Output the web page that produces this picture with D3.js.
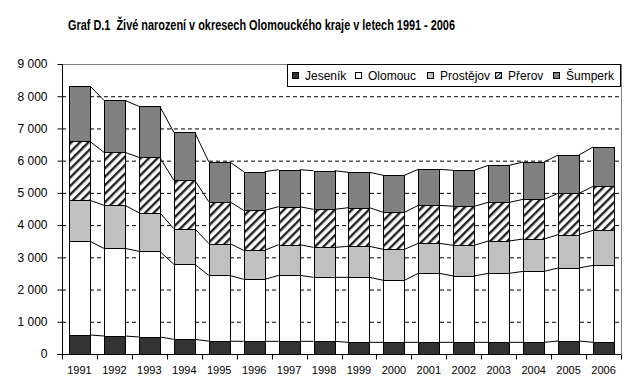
<!DOCTYPE html>
<html>
<head>
<meta charset="utf-8">
<script src="https://cdn.jsdelivr.net/npm/d3@7"></script>
<style>
  body { margin: 0; background: #fff; }
  text { font-family: "Liberation Sans", Arial, sans-serif; }
</style>
</head>
<body>
<svg id="chart"></svg>
<script>
// values
const years = ["1991","1992","1993","1994","1995","1996","1997","1998","1999","2000","2001","2002","2003","2004","2005","2006"];
const jesenik   = [590, 559, 528, 455, 398, 393, 393, 393, 362, 362, 362, 362, 362, 362, 403, 362];
const olomouc   = [2907, 2720, 2658, 2328, 2043, 1924, 2048, 1986, 2017, 1924, 2141, 2059, 2141, 2203, 2266, 2390];
const prostejov = [1272, 1335, 1200, 1107, 988, 900, 952, 931, 962, 962, 931, 951, 1004, 1004, 1034, 1086];
const prerov    = [1831, 1645, 1717, 1500, 1299, 1241, 1179, 1180, 1200, 1148, 1180, 1211, 1200, 1231, 1283, 1365];
const sumperk   = [1717, 1613, 1583, 1489, 1236, 1200, 1148, 1199, 1097, 1149, 1117, 1117, 1148, 1158, 1190, 1221];
const seriesNames = ["Jeseník", "Olomouc", "Prostějov", "Přerov", "Šumperk"];
const yTicks = [0, 1000, 2000, 3000, 4000, 5000, 6000, 7000, 8000, 9000];

const fills = ["#333333", "#ffffff", "#c0c0c0", "url(#hatch)", "#808080"];

const width = 633, height = 386;
const svg = d3.select('#chart')
  .attr('width', width)
  .attr('height', height);

// hatch pattern for Přerov
const defs = svg.append("defs");
const pat = defs.append("pattern")
  .attr("id", "hatch")
  .attr("patternUnits", "userSpaceOnUse")
  .attr("width", 6).attr("height", 6)
  .attr("patternTransform", "rotate(45)");
pat.append("rect").attr("width", 6).attr("height", 6).attr("fill", "#fff");
pat.append("rect").attr("x", 0).attr("y", 0).attr("width", 2.4).attr("height", 6)
  .attr("fill", "#222");

const pat2 = defs.append("pattern")
  .attr("id", "hatchSmall")
  .attr("patternUnits", "userSpaceOnUse")
  .attr("width", 3).attr("height", 3)
  .attr("patternTransform", "rotate(45)");
pat2.append("rect").attr("width", 3).attr("height", 3).attr("fill", "#fff");
pat2.append("rect").attr("width", 1.2).attr("height", 3).attr("fill", "#000");

const plotL = 62, plotR = 621, plotT = 64, plotB = 354;

const x = d3.scaleBand().domain(years).range([plotL, plotR]).paddingInner(0.4).paddingOuter(0.2);
const y = d3.scaleLinear().domain([0, 9000]).range([plotB, plotT]);

const rows = years.map((yr, i) => ({
  year: yr,
  "Jeseník": jesenik[i], "Olomouc": olomouc[i], "Prostějov": prostejov[i],
  "Přerov": prerov[i], "Šumperk": sumperk[i]
}));
const stacked = d3.stack().keys(seriesNames)(rows);

// title
svg.append("text")
  .attr("x", 68).attr("y", 30)
  .attr("font-size", 14).attr("font-weight", "bold")
  .attr("textLength", 387).attr("lengthAdjust", "spacingAndGlyphs")
  .style("white-space", "pre")
  .text("Graf D.1  Živé narození v okresech Olomouckého kraje v letech 1991 - 2006");

// gridlines
svg.append("g").selectAll("line")
  .data(yTicks.filter(d => d > 0 && d < 9000))
  .join("line")
  .attr("x1", plotL).attr("x2", plotR)
  .attr("y1", d => y(d) + 0.5).attr("y2", d => y(d) + 0.5)
  .attr("stroke", "#000").attr("stroke-dasharray", "4,3");

// plot border (top & right)
svg.append("path")
  .attr("d", `M${plotL},${y(9000) + 0.5}H${plotR + 0.5}V${plotB}`)
  .attr("fill", "none").attr("stroke", "#808080");

// series connector lines
const bw = x.bandwidth();
stacked.forEach(s => {
  const pts = [];
  s.forEach((d, i) => {
    if (i > 0) pts.push([[x(years[i - 1]) + bw, y(s[i - 1][1])], [x(years[i]), y(d[1])]]);
  });
  svg.append("g").selectAll("line").data(pts).join("line")
    .attr("x1", d => d[0][0]).attr("y1", d => d[0][1])
    .attr("x2", d => d[1][0]).attr("y2", d => d[1][1])
    .attr("stroke", "#000").attr("stroke-width", 1);
});

// bars
stacked.forEach((s, k) => {
  svg.append("g").selectAll("rect").data(s).join("rect")
    .attr("x", (d, i) => Math.round(x(years[i])) + 0.5)
    .attr("y", d => Math.round(y(d[1])) + 0.5)
    .attr("width", Math.round(bw))
    .attr("height", d => Math.round(y(d[0])) - Math.round(y(d[1])))
    .attr("fill", fills[k])
    .attr("stroke", "#000").attr("stroke-width", 1);
});

// y axis
const gy = svg.append("g")
  .attr("transform", `translate(${plotL + 0.5},0)`)
  .call(d3.axisLeft(y).tickValues(yTicks).tickSize(5).tickPadding(10)
    .tickFormat(d => d3.format(",")(d).replace(",", " ")));
gy.selectAll("text").attr("font-size", 12).attr("font-family", "Liberation Sans, Arial, sans-serif").attr("fill", "#000");
gy.selectAll("line, path").attr("stroke", "#000");
gy.select(".domain").attr("d", `M-5,${plotB + 0.5}H0V${plotT}`);

// x axis
const step = x.step();
const gx = svg.append("g").attr("transform", `translate(0,${plotB + 0.5})`);
gx.append("line").attr("x1", plotL).attr("x2", plotR).attr("stroke", "#000");
gx.selectAll("line.tick").data(d3.range(years.length + 1)).join("line")
  .attr("class", "tick")
  .attr("x1", i => Math.round(plotL + i * step) + 0.5)
  .attr("x2", i => Math.round(plotL + i * step) + 0.5)
  .attr("y1", 0).attr("y2", 5).attr("stroke", "#000");
gx.selectAll("text").data(years).join("text")
  .attr("x", d => x(d) + bw / 2).attr("y", 19)
  .attr("text-anchor", "middle").attr("font-size", 11)
  .text(d => d);

// legend
const legend = svg.append("g");
legend.append("rect")
  .attr("x", 287.5).attr("y", 64.5).attr("width", 333).attr("height", 22)
  .attr("fill", "#fff").attr("stroke", "#000");
const legX = [292, 355, 427, 495, 553];
seriesNames.forEach((name, k) => {
  legend.append("rect")
    .attr("x", legX[k] + 0.5).attr("y", 72.5).attr("width", 6).attr("height", 6)
    .attr("fill", k === 3 ? "url(#hatchSmall)" : fills[k]).attr("stroke", "#000");
  legend.append("text")
    .attr("x", legX[k] + 13).attr("y", 80)
    .attr("font-size", 12).text(name);
});
</script>
</body>
</html>
